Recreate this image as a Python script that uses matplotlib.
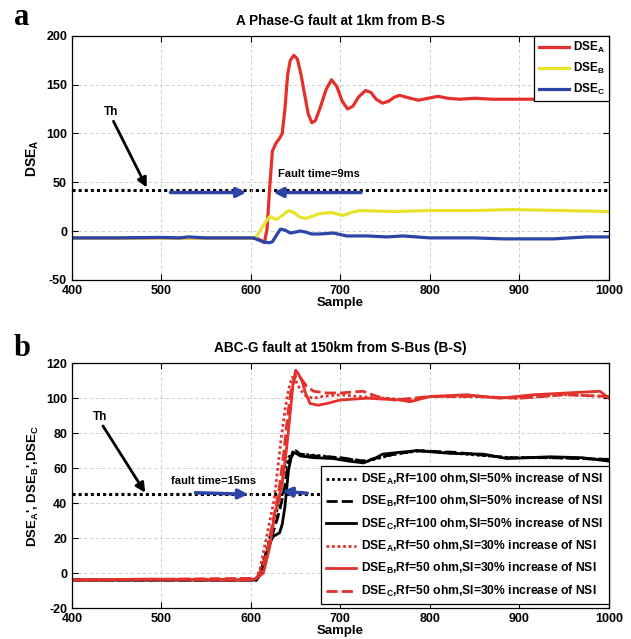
import matplotlib
matplotlib.use("Agg")
import matplotlib.pyplot as plt

plt.rcParams['font.family'] = ['Liberation Sans', 'DejaVu Sans']
plt.rcParams['font.weight'] = 'bold'
plt.rcParams['axes.labelweight'] = 'bold'
plt.rcParams['axes.titleweight'] = 'bold'
plt.rcParams['axes.unicode_minus'] = False
plt.rcParams['mathtext.fontset'] = 'custom'
plt.rcParams['mathtext.rm'] = 'Liberation Sans:bold'
plt.rcParams['mathtext.bf'] = 'Liberation Sans:bold'
plt.rcParams['mathtext.it'] = 'Liberation Sans:bold'

RED = '#e3312b'
YEL = '#e8e42e'
BLU = '#2c44a6'

# ---------------- panel a data ----------------
xa_A = [400, 450, 500, 550, 600, 608, 612, 615, 618, 621, 624, 628, 632, 635, 638, 641, 644, 648,
        652, 656, 660, 664, 668, 672, 678, 684, 690, 696, 702, 708, 714, 720, 728, 734, 740, 747,
        754, 760, 766, 774, 787, 798, 809, 820, 833, 850, 870, 900, 930, 960, 1000]
ya_A = [-7, -7, -7, -7, -7, -8, -10, -12, 2, 45, 82, 90, 95, 100, 125, 160, 175, 180,
        176, 160, 140, 120, 111, 113, 128, 145, 155, 148, 133, 125, 128, 137, 144, 142, 135, 131,
        133, 137, 139, 137, 134, 136, 138, 136, 135, 136, 135, 135, 135, 135, 135]

xa_B = [400, 450, 500, 550, 600, 606, 612, 617, 621, 625, 629, 635, 642, 648, 655, 662, 668, 677,
        690, 703, 712, 722, 760, 800, 850, 890, 950, 1000]
ya_B = [-7, -7, -7, -7, -7, -6, 3, 10, 15, 13, 12, 16, 21, 19, 14, 13, 15, 18,
        19, 16, 19, 21, 20, 21, 21, 22, 21, 20]

xa_C = [400, 450, 500, 520, 530, 550, 600, 603, 608, 614, 620, 624, 628, 633, 638, 644, 650, 655,
        661, 668, 677, 692, 707, 730, 752, 770, 800, 850, 882, 938, 975, 1000]
ya_C = [-7, -7, -6.5, -7, -6, -7, -7, -7, -9, -11, -12, -11, -5, 2, 1, -2, -1, 0,
        -1, -3, -3, -2, -5, -5, -6, -5, -7, -7, -8, -8, -6, -6]

th_a = 42

# ---------------- panel b data ----------------
xb_A50 = [400, 500, 550, 600, 606, 610, 614, 618, 622, 626, 630, 634, 638, 642, 646, 650, 655, 662,
          670, 680, 700, 720, 750, 780, 800, 850, 900, 950, 1000]
yb_A50 = [-4, -4, -4, -4, -3, 2, 12, 22, 32, 42, 60, 78, 93, 105, 112, 110, 105, 101,
          100, 101, 102, 101, 100, 99, 101, 101, 100, 102, 101]

xb_B50 = [400, 480, 600, 606, 614, 621, 627, 631, 636, 640, 644, 647, 650, 653, 657, 661, 666, 675,
          685, 700, 730, 766, 778, 800, 841, 878, 916, 953, 990, 1000]
yb_B50 = [-4, -3.5, -4, -3, 0, 15, 35, 41, 55, 72, 92, 108, 116, 114, 110, 103, 97, 96,
          97, 99, 100, 99, 98, 101, 102, 100, 102, 103, 104, 100]

xb_C50 = [400, 606, 612, 618, 624, 628, 632, 637, 641, 645, 650, 655, 662, 670, 685, 700, 725, 741,
          760, 780, 800, 850, 900, 950, 1000]
yb_C50 = [-4, -3, 2, 12, 28, 38, 50, 70, 90, 105, 113, 112, 107, 104, 103, 103, 104, 101,
          99, 100, 101, 101, 100, 102, 101]

xb_C100 = [400, 606, 612, 617, 621, 625, 632, 635, 638, 642, 645, 648, 652, 655, 670, 692, 710, 726,
           740, 747, 765, 785, 822, 860, 886, 934, 970, 1000]
yb_C100 = [-4, -4, 2, 11, 17, 21, 23, 28, 38, 59, 66, 69, 68, 67, 66, 65.5, 64, 63,
           66, 68, 69, 70, 68.5, 68, 65.5, 66.5, 66, 64]

xb_B100 = [400, 606, 612, 618, 624, 630, 634, 638, 642, 646, 650, 655, 670, 700, 726, 750, 785, 830,
           886, 934, 1000]
yb_B100 = [-4, -4, 0, 10, 22, 32, 40, 50, 63, 68, 70, 68, 67, 66, 64, 67, 70, 69,
           66, 66, 65]

xb_A100 = [400, 606, 612, 618, 624, 630, 636, 642, 648, 655, 680, 710, 730, 760, 790, 840, 890, 940, 1000]
yb_A100 = [-4, -4, 3, 14, 26, 38, 55, 66, 70, 68, 67, 65, 64, 68, 70, 68, 66, 66, 65]

th_b = 45

fig = plt.figure(figsize=(6.31, 6.39), dpi=100)
ax1 = fig.add_axes([0.114, 0.562, 0.851, 0.382])
ax2 = fig.add_axes([0.114, 0.0485, 0.851, 0.383])


def style(ax):
    ax.grid(True, color='#c8c8c8', linestyle=(0, (4, 3)), linewidth=0.6)
    ax.tick_params(direction='in', top=True, right=True, labelsize=9, length=4, width=0.8)
    for s in ax.spines.values():
        s.set_linewidth(0.9)
    for lab in ax.get_xticklabels() + ax.get_yticklabels():
        lab.set_fontweight('bold')
    ax.set_xlim(400, 1000)
    ax.set_xticks([400, 500, 600, 700, 800, 900, 1000])


# ---- panel a ----
ax1.axhline(th_a, color='k', linestyle=(0, (1, 1)), lw=2.2, zorder=1)
ax1.plot(xa_A, ya_A, color=RED, lw=2.3, label=r'DSE$_\mathbf{A}$')
ax1.plot(xa_B, ya_B, color=YEL, lw=2.3, label=r'DSE$_\mathbf{B}$')
ax1.plot(xa_C, ya_C, color=BLU, lw=2.3, label=r'DSE$_\mathbf{C}$')
ax1.set_ylim(-50, 200)
ax1.set_yticks([-50, 0, 50, 100, 150, 200])
style(ax1)
ax1.set_title('A Phase-G fault at 1km from B-S', fontsize=9.8, pad=8)
ax1.set_xlabel('Sample', fontsize=9.5, labelpad=0)
ax1.set_ylabel(r'DSE$_\mathbf{A}$', fontsize=10, labelpad=4)

ax1.annotate('', xy=(485, 42), xytext=(445, 115),
             arrowprops=dict(arrowstyle='-|>', lw=2, color='k', mutation_scale=14))
ax1.text(444, 122, 'Th', fontsize=8.5, ha='center', va='center')
ax1.annotate('', xy=(598, 39.5), xytext=(507, 39.5),
             arrowprops=dict(arrowstyle='-|>', lw=2.5, color=BLU, mutation_scale=14))
ax1.annotate('', xy=(622, 39.5), xytext=(726, 39.5),
             arrowprops=dict(arrowstyle='-|>', lw=2.5, color=BLU, mutation_scale=14))
ax1.text(630, 58, 'Fault time=9ms', fontsize=8, ha='left', va='center')

leg1 = ax1.legend(loc='upper right', borderaxespad=0, fancybox=False, edgecolor='k',
                  fontsize=8.5, handlelength=2.6, framealpha=1, borderpad=0.35,
                  labelspacing=0.5, handletextpad=0.3)
leg1.get_frame().set_linewidth(0.9)

# ---- panel b ----
ax2.axhline(th_b, color='k', linestyle=(0, (1, 1)), lw=2.2, zorder=1)
ax2.annotate('', xy=(600, 45), xytext=(535, 46),
             arrowprops=dict(arrowstyle='-|>', lw=2.5, color=BLU, mutation_scale=14))
ax2.annotate('', xy=(632, 47), xytext=(666, 45.5),
             arrowprops=dict(arrowstyle='-|>', lw=2.5, color=BLU, mutation_scale=14))
ax2.plot(xb_A100, yb_A100, color='k', lw=2, linestyle=(0, (1, 1)),
         label=r'DSE$_\mathbf{A}$,Rf=100 ohm,SI=50% increase of NSI')
ax2.plot(xb_B100, yb_B100, color='k', lw=2, linestyle=(0, (4, 1.5)),
         label=r'DSE$_\mathbf{B}$,Rf=100 ohm,SI=50% increase of NSI')
ax2.plot(xb_C100, yb_C100, color='k', lw=2, linestyle='-',
         label=r'DSE$_\mathbf{C}$,Rf=100 ohm,SI=50% increase of NSI')
ax2.plot(xb_A50, yb_A50, color=RED, lw=2, linestyle=(0, (1, 1)),
         label=r'DSE$_\mathbf{A}$,Rf=50 ohm,SI=30% increase of NSI')
ax2.plot(xb_B50, yb_B50, color=RED, lw=2, linestyle='-',
         label=r'DSE$_\mathbf{B}$,Rf=50 ohm,SI=30% increase of NSI')
ax2.plot(xb_C50, yb_C50, color=RED, lw=2, linestyle=(0, (4, 1.5)),
         label=r'DSE$_\mathbf{C}$,Rf=50 ohm,SI=30% increase of NSI')
ax2.set_ylim(-20, 120)
ax2.set_yticks([-20, 0, 20, 40, 60, 80, 100, 120])
style(ax2)
ax2.set_title('ABC-G fault at 150km from S-Bus (B-S)', fontsize=9.8, pad=8)
ax2.set_xlabel('Sample', fontsize=9.5, labelpad=0)
ax2.set_ylabel(r"DSE$_\mathbf{A}$', DSE$_\mathbf{B}$',DSE$_\mathbf{C}$", fontsize=9.5, labelpad=4)

ax2.annotate('', xy=(483.5, 44.6), xytext=(433, 85.5),
             arrowprops=dict(arrowstyle='-|>', lw=2, color='k', mutation_scale=14))
ax2.text(431, 89.5, 'Th', fontsize=8.5, ha='center', va='center')
ax2.text(511, 52.6, 'fault time=15ms', fontsize=8, ha='left', va='center')

leg2 = ax2.legend(loc='lower right', bbox_to_anchor=(1.0, 0.015), borderaxespad=0,
                  fancybox=False, edgecolor='k', fontsize=8.75, handlelength=2.5,
                  framealpha=1, borderpad=0.45, labelspacing=0.6, handletextpad=0.4)
leg2.get_frame().set_linewidth(0.9)

fig.text(0.022, 0.972, 'a', fontsize=22, fontweight='bold', family='Liberation Serif',
         ha='left', va='center')
fig.text(0.022, 0.455, 'b', fontsize=22, fontweight='bold', family='Liberation Serif',
         ha='left', va='center')

fig.savefig('out.png', dpi=100)
